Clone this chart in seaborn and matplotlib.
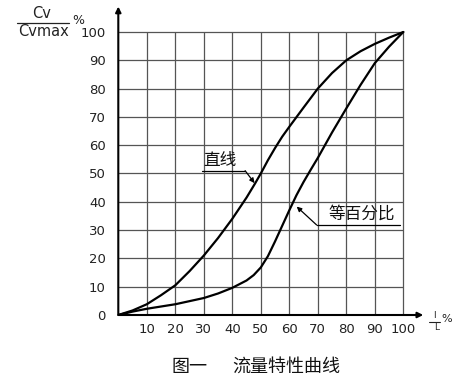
import matplotlib
matplotlib.use("Agg")
import matplotlib.pyplot as plt
import seaborn as sns
import pandas as pd

# ---- data ----
lin_x = [0, 5, 10, 15, 20, 25, 30, 35, 40, 45, 48, 50, 52.5, 55, 57.5, 60, 65, 70, 75, 80, 85, 90, 95, 100]
lin_y = [0, 1.6, 3.8, 7, 10.5, 15.5, 21, 27.2, 34, 41.5, 46.5, 50, 54.7, 59, 63, 66.5, 73.3, 80, 85.5, 90, 93.2, 95.8, 98, 100]

eq_x = [0, 5, 10, 15, 20, 25, 30, 35, 40, 45, 47.5, 50, 52.5, 55, 57.5, 60, 62.5, 65, 67.5, 70, 75, 80, 85, 90, 95, 100]
eq_y = [0, 1.2, 2.2, 3, 3.8, 4.9, 6, 7.6, 9.6, 12.2, 14.1, 16.8, 20.8, 26, 31.5, 37, 42.3, 47, 51.3, 55.5, 64.5, 73, 81.3, 89, 94.8, 100]

x_ticks = [10, 20, 30, 40, 50, 60, 70, 80, 90, 100]
y_ticks = [0, 10, 20, 30, 40, 50, 60, 70, 80, 90, 100]
lin_label = "直线"
eq_label = "等百分比"
caption_a = "图一"
caption_b = "流量特性曲线"

sns.set_style("white")
plt.rcParams['font.family'] = ['DejaVu Sans', 'Noto Sans CJK SC']
cjk = ['Noto Sans CJK SC', 'DejaVu Sans']

fig = plt.figure(figsize=(4.69, 3.92), dpi=100)
ax = fig.add_axes([118.3 / 469, 77 / 392, 107 * 2.85 / 469, 109 * 2.83 / 392])
ax.set_xlim(0, 107)
ax.set_ylim(0, 109)

# grid
ax.vlines(x_ticks, 0, 100, color='#555555', lw=0.9, zorder=1)
ax.hlines(y_ticks[1:], 0, 100, color='#555555', lw=0.9, zorder=1)

df_lin = pd.DataFrame({'x': lin_x, 'y': lin_y})
df_eq = pd.DataFrame({'x': eq_x, 'y': eq_y})
sns.lineplot(data=df_lin, x='x', y='y', ax=ax, color='black', lw=1.6, zorder=3)
sns.lineplot(data=df_eq, x='x', y='y', ax=ax, color='black', lw=1.6, zorder=3)

for s in ax.spines.values():
    s.set_visible(False)
# axes with arrows
ax.annotate('', xy=(107, 0), xytext=(0, 0),
            arrowprops=dict(arrowstyle='-|>', color='black', lw=1.5, mutation_scale=8,
                            shrinkA=0, shrinkB=0), annotation_clip=False)
ax.annotate('', xy=(0, 109), xytext=(0, 0),
            arrowprops=dict(arrowstyle='-|>', color='black', lw=1.5, mutation_scale=8,
                            shrinkA=0, shrinkB=0), annotation_clip=False)

ax.set_xticks(x_ticks)
ax.set_yticks(y_ticks)
ax.tick_params(axis='both', length=0, labelsize=9.5, colors='#222222')
ax.tick_params(axis='x', pad=6)
ax.tick_params(axis='y', pad=9)
ax.set_xlabel('')
ax.set_ylabel('')

# annotations
ax.text(35.8, 51.6, lin_label, family=cjk, fontsize=12, ha='center', va='bottom', color='#111111')
ax.plot([29.3, 44.5], [51, 51], color='black', lw=0.9)
ax.annotate('', xy=(47.8, 46.6), xytext=(44.5, 51),
            arrowprops=dict(arrowstyle='-|>', color='black', lw=0.9, mutation_scale=7,
                            shrinkA=0, shrinkB=0))
ax.text(85.5, 32.6, eq_label, family=cjk, fontsize=12, ha='center', va='bottom', color='#111111')
ax.plot([69.6, 98.8], [31.8, 31.8], color='black', lw=0.9)
ax.annotate('', xy=(62.6, 38.3), xytext=(69.6, 31.8),
            arrowprops=dict(arrowstyle='-|>', color='black', lw=0.9, mutation_scale=7,
                            shrinkA=0, shrinkB=0))

# y label as fraction
fig.text(42 / 469, 1 - 13 / 392, 'Cv', fontsize=10.5, ha='center', va='center', color='#222222')
fig.add_artist(plt.Line2D([17.3 / 469, 69.3 / 469], [1 - 22.7 / 392, 1 - 22.7 / 392],
                          color='#222222', lw=0.9))
fig.text(43 / 469, 1 - 31 / 392, 'Cvmax', fontsize=10.5, ha='center', va='center', color='#222222')
fig.text(78 / 469, 1 - 21 / 392, '%', fontsize=9, ha='center', va='center', color='#222222')

# x label as fraction
fig.text(434.5 / 469, 1 - 315.5 / 392, 'l', fontsize=6.5, ha='center', va='center', color='#222222')
fig.add_artist(plt.Line2D([429 / 469, 440 / 469], [1 - 321.7 / 392, 1 - 321.7 / 392],
                          color='#222222', lw=0.8))
fig.text(437 / 469, 1 - 327 / 392, 'L', fontsize=6.5, ha='center', va='center', color='#222222')
fig.text(447 / 469, 1 - 319 / 392, '%', fontsize=8, ha='center', va='center', color='#222222')

# caption
fig.text(189 / 469, 1 - 367 / 392, caption_a, family=cjk, fontsize=13, ha='center', va='center', color='#111111')
fig.text(286.7 / 469, 1 - 367 / 392, caption_b, family=cjk, fontsize=13, ha='center', va='center', color='#111111')

fig.savefig('out.png', dpi=100)
